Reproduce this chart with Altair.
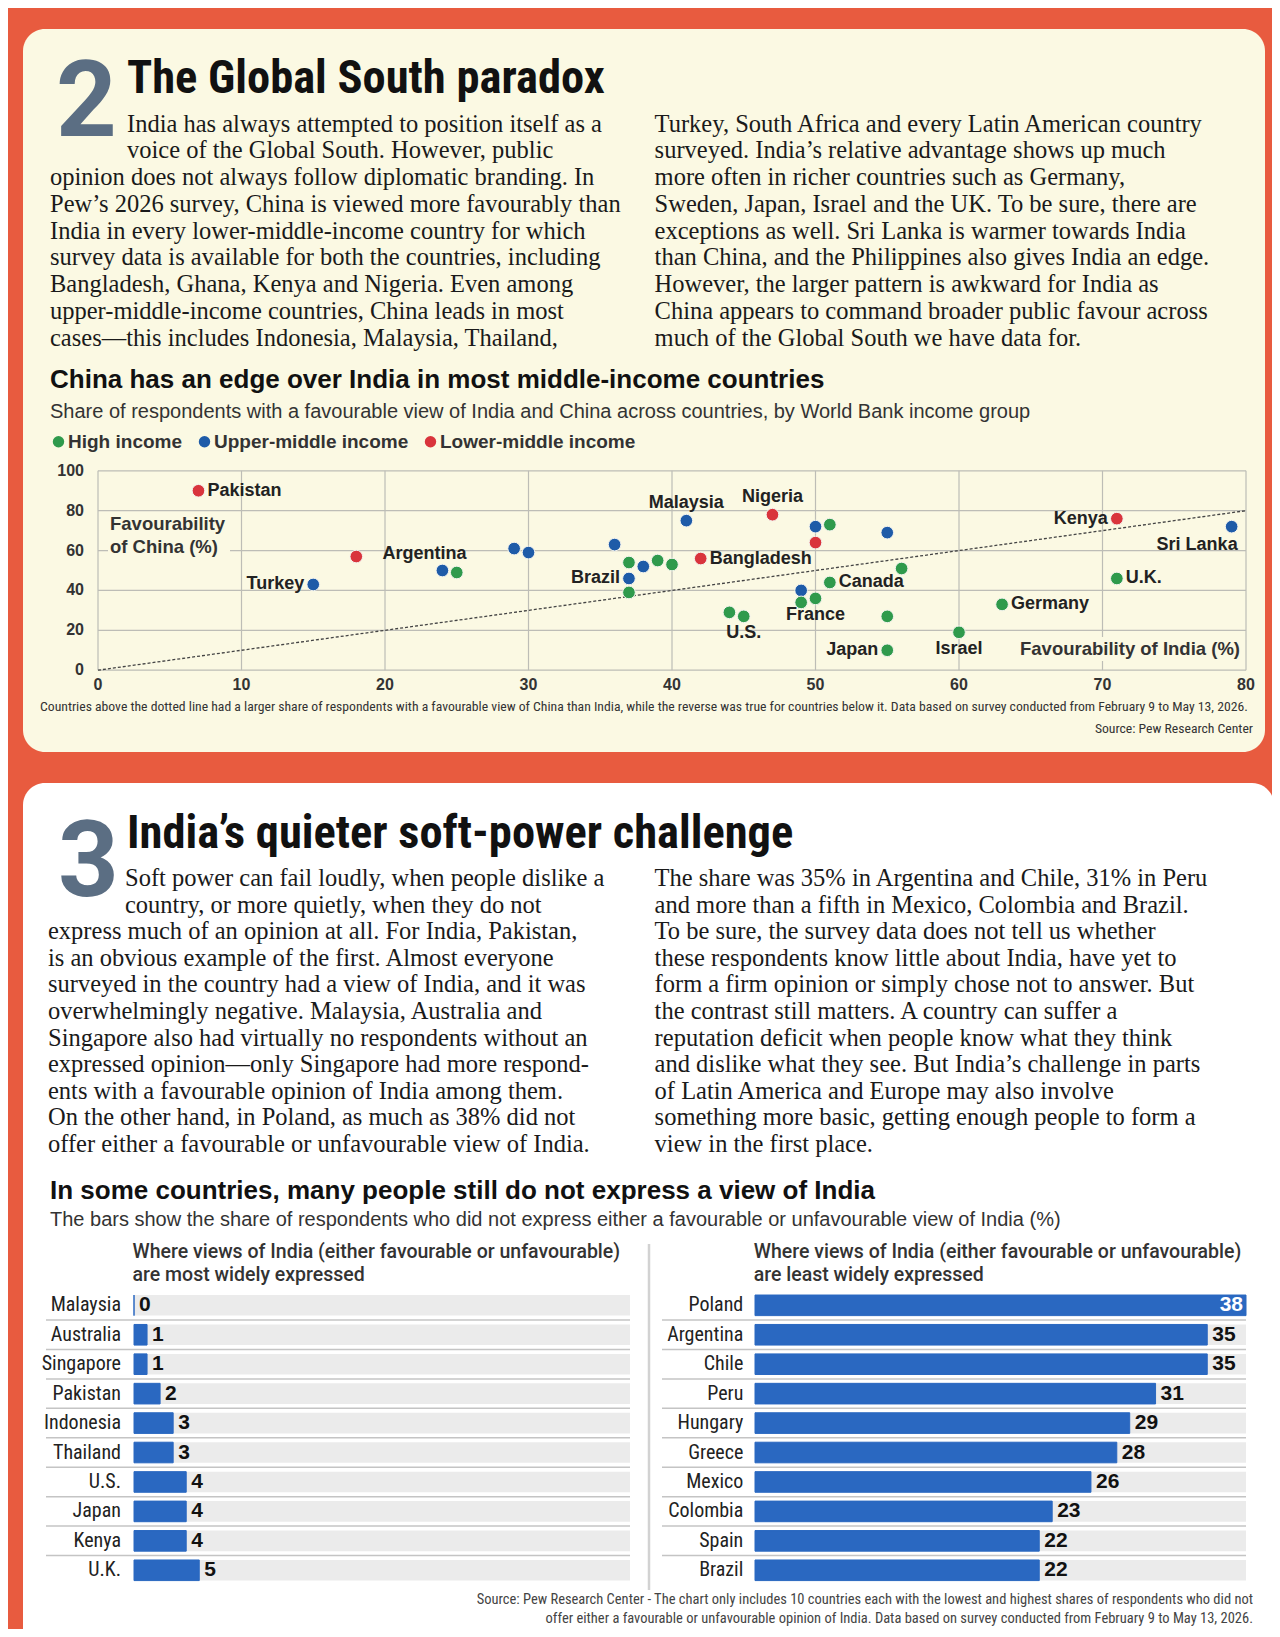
import altair as alt
import pandas as pd

# ---------------- data ----------------
income_groups = ["High income", "Upper-middle income", "Lower-middle income"]
income_colors = ["#2F9A4C", "#1E5BA8", "#D9343C"]

india_fav = [7, 15, 18, 24, 25, 29, 30, 36, 37, 38, 39, 40, 37, 37, 41, 42, 47, 50,
             51, 50, 51, 49, 49, 50, 44, 45, 55, 56, 55, 55, 60, 63, 71, 71, 79]
china_fav = [90, 43, 57, 50, 49, 61, 59, 63, 54, 52, 55, 53, 46, 39, 75, 56, 78, 72,
             73, 64, 44, 40, 34, 36, 29, 27, 69, 51, 27, 10, 19, 33, 46, 76, 72]
H_, U_, L_ = income_groups
income = [L_, U_, L_, U_, H_, U_, U_, U_, H_, U_, H_, H_, U_, H_, U_, L_, L_, U_,
          H_, L_, H_, U_, H_, H_, H_, H_, U_, H_, H_, H_, H_, H_, H_, L_, U_]
labels = ["Pakistan", "Turkey", "", "Argentina", "", "", "", "", "", "", "", "",
          "Brazil", "", "Malaysia", "Bangladesh", "Nigeria", "", "", "", "Canada", "",
          "", "France", "", "U.S.", "", "", "", "Japan", "Israel", "Germany", "U.K.",
          "Kenya", "Sri Lanka"]
x_ticks = [0, 10, 20, 30, 40, 50, 60, 70, 80]
y_ticks = [0, 20, 40, 60, 80, 100]

most_countries = ["Malaysia", "Australia", "Singapore", "Pakistan", "Indonesia",
                  "Thailand", "U.S.", "Japan", "Kenya", "U.K."]
most_values = [0, 1, 1, 2, 3, 3, 4, 4, 4, 5]
least_countries = ["Poland", "Argentina", "Chile", "Peru", "Hungary", "Greece",
                   "Mexico", "Colombia", "Spain", "Brazil"]
least_values = [38, 35, 35, 31, 29, 28, 26, 23, 22, 22]

body2_left_a = ["India has always attempted to position itself as a",
                "voice of the Global South. However, public"]
body2_left_b = ["opinion does not always follow diplomatic branding. In",
                "Pew\u2019s 2026 survey, China is viewed more favourably than",
                "India in every lower-middle-income country for which",
                "survey data is available for both the countries, including",
                "Bangladesh, Ghana, Kenya and Nigeria. Even among",
                "upper-middle-income countries, China leads in most",
                "cases\u2014this includes Indonesia, Malaysia, Thailand,"]
body2_right = ["Turkey, South Africa and every Latin American country",
               "surveyed. India\u2019s relative advantage shows up much",
               "more often in richer countries such as Germany,",
               "Sweden, Japan, Israel and the UK. To be sure, there are",
               "exceptions as well. Sri Lanka is warmer towards India",
               "than China, and the Philippines also gives India an edge.",
               "However, the larger pattern is awkward for India as",
               "China appears to command broader public favour across",
               "much of the Global South we have data for."]
body3_left_a = ["Soft power can fail loudly, when people dislike a",
                "country, or more quietly, when they do not"]
body3_left_b = ["express much of an opinion at all. For India, Pakistan,",
                "is an obvious example of the first. Almost everyone",
                "surveyed in the country had a view of India, and it was",
                "overwhelmingly negative. Malaysia, Australia and",
                "Singapore also had virtually no respondents without an",
                "expressed opinion\u2014only Singapore had more respond-",
                "ents with a favourable opinion of India among them.",
                "On the other hand, in Poland, as much as 38% did not",
                "offer either a favourable or unfavourable view of India."]
body3_right = ["The share was 35% in Argentina and Chile, 31% in Peru",
               "and more than a fifth in Mexico, Colombia and Brazil.",
               "To be sure, the survey data does not tell us whether",
               "these respondents know little about India, have yet to",
               "form a firm opinion or simply chose not to answer. But",
               "the contrast still matters. A country can suffer a",
               "reputation deficit when people know what they think",
               "and dislike what they see. But India\u2019s challenge in parts",
               "of Latin America and Europe may also involve",
               "something more basic, getting enough people to form a",
               "view in the first place."]

# ---------------- style ----------------
RED = "#E85B3F"
CREAM = "#FBF9E3"
INK = "#1A1A1A"
SLATE = "#5B6E83"
GRID = "#BDBDB6"
BAR = "#2A68C1"
TRACK = "#EBEBEB"
SEP = "#C4C4C4"
NARROW = "Roboto Condensed, Noto Sans Condensed, Liberation Sans Narrow, DejaVu Sans Condensed, sans-serif"
ROBOTO = "Roboto, Liberation Sans, sans-serif"
SANS = "Liberation Sans, Arial, sans-serif"
SERIF = "Liberation Serif, Times New Roman, serif"

one = pd.DataFrame({"k": [1]})
layers = []


def txt(x, y, text, size, font=SANS, weight="normal", color=INK, align="left",
        baseline="alphabetic", lh=None):
    kw = dict(fontSize=size, font=font, fontWeight=weight, color=color,
              align=align, baseline=baseline)
    if lh is not None:
        kw["lineHeight"] = lh
    return alt.Chart(one).mark_text(**kw).encode(
        x=alt.value(x), y=alt.value(y), text=alt.value(text))


def box(x, x2, y, y2, color, radius=0):
    return alt.Chart(one).mark_rect(color=color, cornerRadius=radius).encode(
        x=alt.value(x), x2=alt.value(x2), y=alt.value(y), y2=alt.value(y2))


# cards
layers.append(box(15, 1257, 21, 744, CREAM, 22))
layers.append(box(15, 1266, 775, 1680, "#FFFFFF", 22))

# ---- section 2 header + body ----
LH = 26.75
layers.append(txt(48, 128, "2", 106, font=ROBOTO, weight="bold", color=SLATE))
layers.append(txt(119, 85, "The Global South paradox", 46.5, font=NARROW, weight="bold", color="#111"))
layers.append(txt(119, 123.5, body2_left_a, 24.5, font=SERIF, lh=LH))
layers.append(txt(42, 123.5 + 2 * LH, body2_left_b, 24.5, font=SERIF, lh=LH))
layers.append(txt(646.6, 123.5, body2_right, 24.5, font=SERIF, lh=LH))

layers.append(txt(42, 380, "China has an edge over India in most middle-income countries", 26,
                  weight="bold", color="#111"))
layers.append(txt(42, 409.6, "Share of respondents with a favourable view of India and China across "
                  "countries, by World Bank income group", 20, color="#333"))

# ---- scatter ----
xs = alt.Scale(domain=[0, 80], range=[90, 1238], nice=False, zero=False)
ys = alt.Scale(domain=[0, 100], range=[662.2, 462.8], nice=False, zero=False)

vgrid = pd.DataFrame({"v": x_ticks, "lo": 0, "hi": 100})
hgrid = pd.DataFrame({"v": y_ticks, "lo": 0, "hi": 80})
layers.append(alt.Chart(vgrid).mark_rule(color=GRID, strokeWidth=1.2).encode(
    x=alt.X("v:Q", scale=xs, axis=None), y=alt.Y("lo:Q", scale=ys, axis=None), y2="hi:Q"))
layers.append(alt.Chart(hgrid).mark_rule(color=GRID, strokeWidth=1.2).encode(
    y=alt.Y("v:Q", scale=ys, axis=None), x=alt.X("lo:Q", scale=xs, axis=None), x2="hi:Q"))

# backgrounds behind in-plot axis titles
layers.append(box(100, 222, 505, 551, CREAM))
layers.append(box(1008, 1236, 629, 653, CREAM))

diag = pd.DataFrame({"t": [0, 80]})
layers.append(alt.Chart(diag).mark_line(color="#444", strokeWidth=1.3, strokeDash=[3, 2]).encode(
    x=alt.X("t:Q", scale=xs, axis=None), y=alt.Y("t:Q", scale=ys, axis=None)))

pts = pd.DataFrame({"india": india_fav, "china": china_fav, "income": income, "label": labels})
layers.append(alt.Chart(pts).mark_circle(size=160, opacity=1, stroke="#F4F4EE", strokeWidth=1).encode(
    x=alt.X("india:Q", scale=xs, axis=None),
    y=alt.Y("china:Q", scale=ys, axis=None),
    color=alt.Color("income:N",
                    scale=alt.Scale(domain=income_groups, range=income_colors),
                    legend=alt.Legend(orient="none", legendX=41, legendY=424,
                                      direction="horizontal", title=None,
                                      labelFont=SANS, labelFontSize=19,
                                      labelFontWeight="bold", labelColor="#333",
                                      labelLimit=400,
                                      symbolType="circle", symbolSize=130,
                                      symbolStrokeWidth=0, labelOffset=0,
                                      columnPadding=12, padding=0))))

placements = {"Pakistan": "right", "Turkey": "left", "Argentina": "upleft", "Brazil": "left",
              "Malaysia": "above", "Bangladesh": "right", "Nigeria": "above",
              "Canada": "right", "France": "below", "U.S.": "below", "Japan": "left",
              "Israel": "below", "Germany": "right", "U.K.": "right", "Kenya": "left",
              "Sri Lanka": "belowleft"}
offsets = {"right": ("left", 9, 0), "left": ("right", -9, 0), "above": ("center", 0, -18),
           "below": ("center", 0, 17), "upleft": ("right", 24, -17),
           "belowleft": ("right", 6, 18)}
for pname, (al, dx, dy) in offsets.items():
    sub = pts[pts["label"].map(lambda s: placements.get(s, "")) == pname]
    layers.append(alt.Chart(sub).mark_text(align=al, dx=dx, dy=dy, baseline="middle",
                                           font=SANS, fontWeight="bold", fontSize=18,
                                           color="#222").encode(
        x=alt.X("india:Q", scale=xs, axis=None),
        y=alt.Y("china:Q", scale=ys, axis=None),
        text="label:N"))

xt = pd.DataFrame({"v": x_ticks})
yt = pd.DataFrame({"v": y_ticks})
layers.append(alt.Chart(xt).mark_text(font=SANS, fontWeight="bold", fontSize=16, color="#333",
                                      baseline="middle", align="center").encode(
    x=alt.X("v:Q", scale=xs, axis=None), y=alt.value(677), text=alt.Text("v:Q", format="d")))
layers.append(alt.Chart(yt).mark_text(font=SANS, fontWeight="bold", fontSize=16, color="#333",
                                      baseline="middle", align="right").encode(
    y=alt.Y("v:Q", scale=ys, axis=None), x=alt.value(76), text=alt.Text("v:Q", format="d")))

layers.append(txt(102, 516, ["Favourability", "of China (%)"], 18.5, weight="bold",
                  color="#333", baseline="middle", lh=22.7))
layers.append(txt(1232, 640.5, "Favourability of India (%)", 18.5, weight="bold",
                  color="#333", baseline="middle", align="right"))

layers.append(txt(32, 703, "Countries above the dotted line had a larger share of respondents with a "
                  "favourable view of China than India, while the reverse was true for countries "
                  "below it. Data based on survey conducted from February 9 to May 13, 2026.",
                  13.7, font=NARROW, color="#333"))
layers.append(txt(1245, 725, "Source: Pew Research Center", 13.7, font=NARROW, color="#333",
                  align="right"))

# ---- section 3 header + body ----
LH3 = 26.6
layers.append(txt(50, 888, "3", 106, font=ROBOTO, weight="bold", color=SLATE))
layers.append(txt(119, 840, "India\u2019s quieter soft-power challenge", 46.5, font=NARROW,
                  weight="bold", color="#111"))
layers.append(txt(117, 878, body3_left_a, 24.5, font=SERIF, lh=LH3))
layers.append(txt(40, 878 + 2 * LH3, body3_left_b, 24.5, font=SERIF, lh=LH3))
layers.append(txt(646.6, 878, body3_right, 24.5, font=SERIF, lh=LH3))

layers.append(txt(42, 1190.5, "In some countries, many people still do not express a view of India",
                  26, weight="bold", color="#111"))
layers.append(txt(42, 1217.7, "The bars show the share of respondents who did not express either a "
                  "favourable or unfavourable view of India (%)", 20, color="#333"))

layers.append(txt(124.6, 1250, ["Where views of India (either favourable or unfavourable)",
                                "are most widely expressed"], 19.5, font=ROBOTO, weight=500,
                  color="#333", lh=23))
layers.append(txt(745.8, 1250, ["Where views of India (either favourable or unfavourable)",
                                "are least widely expressed"], 19.5, font=ROBOTO, weight=500,
                  color="#333", lh=23))

# ---- bars ----
XMAX = 38
ROWS = [1282.6, 1577.0]


def bar_panel(countries, values, x_range, label_x, sep_x0):
    df = pd.DataFrame({"country": countries, "value": values})
    df["track"] = XMAX
    xsc = alt.Scale(domain=[0, XMAX], range=x_range, nice=False, zero=True)
    band = alt.Scale(domain=countries, range=ROWS, paddingInner=0.3, paddingOuter=0.15)
    sepband = alt.Scale(domain=countries, range=ROWS, paddingInner=0, paddingOuter=0)
    out = []
    out.append(alt.Chart(df).mark_bar(color=TRACK).encode(
        x=alt.X("track:Q", scale=xsc, axis=None), y=alt.Y("country:N", scale=band, axis=None)))
    out.append(alt.Chart(df.iloc[:-1]).mark_rule(color=SEP, strokeWidth=1.5).encode(
        y=alt.Y("country:N", scale=sepband, axis=None, bandPosition=1),
        x=alt.value(sep_x0), x2=alt.value(x_range[1])))
    out.append(alt.Chart(df).mark_bar(color=BAR, stroke=BAR, strokeWidth=1).encode(
        x=alt.X("value:Q", scale=xsc, axis=None), y=alt.Y("country:N", scale=band, axis=None)))
    out.append(alt.Chart(df).mark_text(align="right", baseline="middle", font=NARROW,
                                       fontSize=20, color="#222").encode(
        x=alt.value(label_x), y=alt.Y("country:N", scale=band, axis=None), text="country:N"))
    out.append(alt.Chart(df[df["value"] < XMAX - 1]).mark_text(
        align="left", baseline="middle", dx=5, font=SANS, fontWeight="bold", fontSize=21,
        color="#111").encode(
        x=alt.X("value:Q", scale=xsc, axis=None), y=alt.Y("country:N", scale=band, axis=None),
        text="value:Q"))
    out.append(alt.Chart(df[df["value"] >= XMAX - 1]).mark_text(
        align="right", baseline="middle", dx=-3, font=SANS, fontWeight="bold", fontSize=21,
        color="#FFFFFF").encode(
        x=alt.X("value:Q", scale=xsc, axis=None), y=alt.Y("country:N", scale=band, axis=None),
        text="value:Q"))
    return out


layers += bar_panel(most_countries, most_values, [126, 622], 113, 38)
layers += bar_panel(least_countries, least_values, [747, 1238], 735.3, 654)

layers.append(alt.Chart(one).mark_rule(color="#D2D2D2", strokeWidth=2.5).encode(
    x=alt.value(641), y=alt.value(1236), y2=alt.value(1582)))

layers.append(txt(1245, 1596, "Source: Pew Research Center - The chart only includes 10 countries "
                  "each with the lowest and highest shares of respondents who did not",
                  14.5, font=NARROW, color="#444", align="right"))
layers.append(txt(1245, 1615, "offer either a favourable or unfavourable opinion of India. Data "
                  "based on survey conducted from February 9 to May 13, 2026.",
                  14.5, font=NARROW, color="#444", align="right"))

chart = alt.layer(*layers).resolve_scale(
    x="independent", y="independent", color="independent"
).properties(
    width=1264, height=1621, padding=0, background=RED,
    autosize=alt.AutoSizeParams(type="none")
).configure_view(strokeWidth=0)

chart.save("out.html", embed_options={"renderer": "svg", "actions": False})
